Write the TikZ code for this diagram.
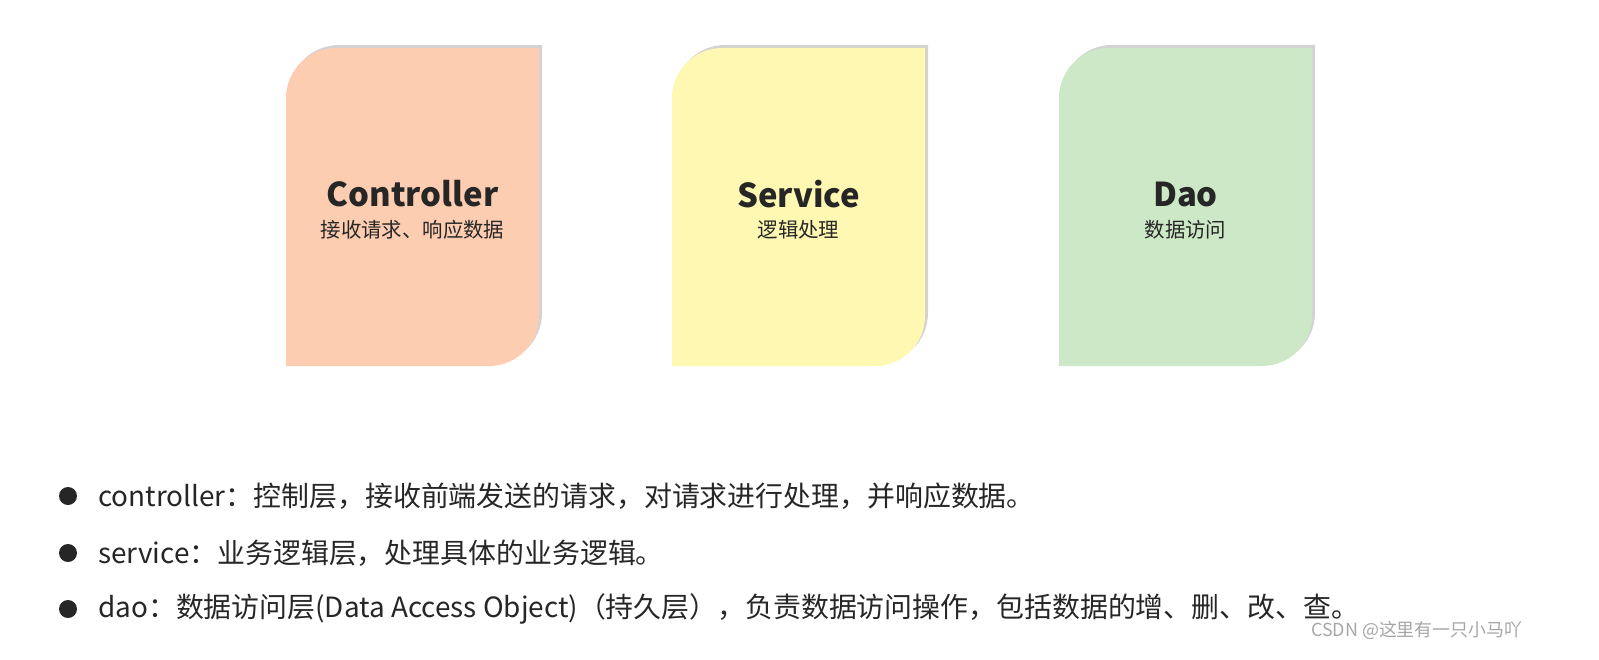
\documentclass[tikz,border=0pt]{standalone}
\usepackage{fontspec}
\setmainfont{Noto Sans CJK SC}
\usetikzlibrary{shadows}
\definecolor{peach}{HTML}{FDCDB2}
\definecolor{lemon}{HTML}{FEF8B2}
\definecolor{mint}{HTML}{CCE8C6}
\definecolor{ink}{HTML}{262626}
\tikzset{
  card/.style={drop shadow={shadow xshift=3bp,shadow yshift=3bp,opacity=0.35,fill=gray}},
  ttl/.style={text=ink,font=\fontsize{33}{38}\selectfont\bfseries},
  sub/.style={text=ink,font=\fontsize{20.5}{24}\selectfont},
  btxt/.style={anchor=west,text=ink,font=\fontsize{28}{32}\selectfont,inner sep=0pt},
  dot/.style={circle,fill=ink,inner sep=0pt,minimum size=18bp}
}
\newcommand{\cardshape}[2]{%
  \fill[#2,card] (#1,-98) arc[start angle=180,end angle=90,radius=50] -- ({#1+253},-48) -- ({#1+253},-316) arc[start angle=0,end angle=-90,radius=50] -- (#1,-366) -- cycle;}
\begin{document}
\begin{tikzpicture}[x=1bp,y=1bp]
\cardshape{286}{peach}
\cardshape{672}{lemon}
\cardshape{1059}{mint}
\node[ttl] (c) at (412.5,-194) {Controller};
\node[sub] (cs) at (412.5,-230) {接收请求、响应数据};
\node[ttl] (s) at (798.5,-194) {Service};
\node[sub] (ss) at (798.5,-230) {逻辑处理};
\node[ttl] (d) at (1185.5,-194) {Dao};
\node[sub] (ds) at (1185.5,-230) {数据访问};
\node[dot] (b1) at (68,-496) {};
\node[dot] (b2) at (68,-553) {};
\node[dot] (b3) at (68,-609) {};
\node[btxt] (t1) at (98,-496) {controller：控制层，接收前端发送的请求，对请求进行处理，并响应数据。};
\node[btxt] (t2) at (98,-553) {service：业务逻辑层，处理具体的业务逻辑。};
\node[btxt] (t3) at (98,-609) {dao：数据访问层(Data Access Object)（持久层），负责数据访问操作，包括数据的增、删、改、查。};
\node[anchor=east,text=gray!70,font=\fontsize{18}{20}\selectfont] (wm) at (1526,-630) {CSDN @这里有一只小马吖};
\pgfresetboundingbox
\useasboundingbox (0,0) rectangle (1599,-660);
\end{tikzpicture}
\end{document}
